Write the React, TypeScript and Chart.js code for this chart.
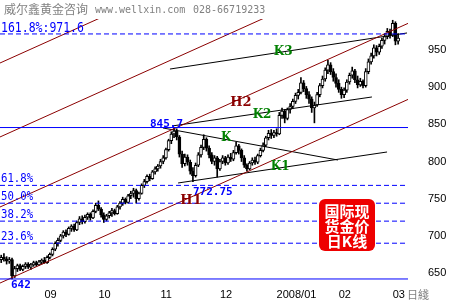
import React, { useEffect, useRef } from "react";
import { Chart, registerables } from "chart.js";

Chart.register(...registerables);

// ---- Daily bars (index 0 = mid Aug 2007) ----
const opens = [668, 671, 669, 666, 668, 646, 656, 660, 655, 659, 662, 658, 661, 664, 661, 665, 667, 664, 671, 675, 682, 690, 694, 700, 705, 702, 710, 713, 708, 718, 723, 719, 725, 729, 724, 733, 741, 736, 728, 722, 727, 731, 734, 730, 739, 744, 749, 745, 754, 757, 761, 750, 757, 768, 773, 780, 777, 786, 790, 794, 800, 805, 816, 828, 837, 841, 833, 810, 797, 806, 799, 787, 781, 795, 809, 819, 830, 818, 809, 800, 805, 790, 800, 805, 798, 806, 803, 812, 821, 815, 805, 795, 790, 798, 802, 799, 808, 815, 822, 832, 838, 835, 839, 837, 862, 868, 858, 870, 874, 881, 889, 893, 906, 898, 890, 884, 872, 876, 890, 902, 911, 923, 930, 921, 913, 905, 897, 890, 896, 907, 916, 922, 910, 903, 908, 902, 921, 934, 942, 953, 947, 955, 963, 968, 975, 970, 986, 962];
const highs = [674, 676, 672, 671, 670, 659, 662, 662, 661, 664, 664, 663, 666, 666, 667, 669, 671, 673, 677, 684, 692, 697, 702, 707, 708, 712, 715, 716, 720, 726, 727, 728, 731, 731, 735, 744, 747, 738, 731, 729, 733, 737, 736, 741, 746, 752, 751, 756, 760, 764, 763, 759, 770, 776, 782, 783, 788, 793, 796, 803, 808, 818, 830, 840, 845.7, 844, 835, 814, 810, 809, 802, 792, 798, 812, 822, 836, 832, 821, 812, 808, 807, 803, 808, 807, 809, 811, 815, 826, 823, 817, 808, 797, 800, 805, 806, 810, 818, 825, 834, 842, 843, 842, 844, 866, 872, 870, 872, 878, 884, 892, 897, 913, 909, 901, 894, 887, 880, 893, 905, 915, 926, 936, 933, 925, 918, 910, 900, 899, 910, 919, 927, 924, 915, 912, 910, 925, 938, 946, 957, 956, 958, 966, 972, 979, 978, 990, 988, 972];
const lows = [664, 666, 662, 663, 642, 644, 652, 653, 653, 656, 656, 655, 659, 659, 660, 662, 663, 663, 669, 673, 680, 686, 692, 697, 699, 701, 706, 706, 707, 715, 716, 717, 722, 721, 723, 731, 734, 725, 718, 720, 724, 726, 728, 729, 736, 741, 743, 744, 750, 752, 744, 748, 756, 765, 771, 774, 776, 783, 787, 791, 797, 803, 814, 824, 832, 829, 806, 792, 794, 795, 783, 772.75, 779, 793, 806, 816, 814, 805, 797, 795, 779, 788, 797, 795, 796, 800, 801, 810, 810, 800, 792, 787, 789, 795, 796, 797, 806, 813, 820, 829, 831, 832, 834, 836, 858, 852, 856, 865, 871, 878, 884, 891, 894, 885, 878, 866, 852, 874, 887, 899, 908, 918, 917, 908, 900, 893, 885, 886, 893, 904, 912, 906, 899, 901, 899, 900, 918, 931, 939, 942, 944, 952, 958, 965, 966, 968, 957, 958];
const closes = [671, 669, 666, 668, 646, 656, 660, 655, 659, 662, 658, 661, 664, 661, 665, 667, 664, 671, 675, 682, 690, 694, 700, 705, 702, 710, 713, 708, 718, 723, 719, 725, 729, 724, 733, 741, 736, 728, 722, 727, 731, 734, 730, 739, 744, 749, 745, 754, 757, 761, 750, 757, 768, 773, 780, 777, 786, 790, 794, 800, 805, 816, 828, 837, 841, 833, 810, 797, 806, 799, 787, 781, 795, 809, 819, 830, 818, 809, 800, 805, 790, 800, 805, 798, 806, 803, 812, 821, 815, 805, 795, 790, 798, 802, 799, 808, 815, 822, 832, 838, 835, 839, 837, 862, 868, 858, 870, 874, 881, 889, 893, 906, 898, 890, 884, 872, 876, 890, 902, 911, 923, 930, 921, 913, 905, 897, 890, 896, 907, 916, 922, 910, 903, 908, 902, 921, 934, 942, 953, 947, 955, 963, 968, 975, 970, 986, 962, 966];

// ---- Axes ----
const X_MIN = -0.45;
const X_MAX = 150.66;
const Y_MIN = 631.2;
const Y_MAX = 991.7;
const yTicks = [650, 700, 750, 800, 850, 900, 950];
const monthLabels = ["09", "10", "11", "12", "2008/01", "02", "03"];
const monthStarts = [16, 36, 59, 81, 102, 125, 145];

// ---- Levels ----
const swingLow = 642;
const swingHigh = 845.7;
const pivotLow = 772.75;
const extLevel = 971.6;
const extLabel = "161.8%:971.6";
const fibLevels = [690.1, 719.8, 743.9, 767.9];
const fibLabels = ["23.6%", "38.2%", "50.0%", "61.8%"];

// ---- Parallel channel (dark red), values at X_MIN and X_MAX ----
const channelStart = [932.5, 833.0, 738.8, 636.5];
const channelEnd = [1179.5, 1080.0, 985.8, 883.5];
const channelNames = ["", "", "H2", "H1"];
const channelLabelX = [0, 0, 88.8, 70.3];
const channelLabelY = [0, 0, 878.7, 746.9];

// ---- Black trend lines K, K1, K2, K3 ----
const kNames = ["K", "K1", "K2", "K3"];
const kStartX = [59.9, 65.5, 63.3, 62.5];
const kStartY = [845.1, 771.1, 847.8, 924.4];
const kEndX = [124.7, 142.9, 137.3, 150.3];
const kEndY = [802.0, 812.8, 886.8, 972.9];
const kLabelX = [83.3, 103.3, 96.6, 104.4];
const kLabelY = [831.6, 792.6, 862.6, 947.3];

const BLUE = "#0000ff";
const DARKRED = "#8b0000";
const GREEN = "#008000";

export default function App() {
  const ref = useRef<HTMLCanvasElement | null>(null);

  useEffect(() => {
    if (!ref.current) return;
    const idx = closes.map((_, i) => i);

    const lineDs = (pts: { x: number; y: number }[], color: string, dash: number[] = []) => ({
      type: "line" as const,
      data: pts,
      borderColor: color,
      borderWidth: 1,
      borderDash: dash,
      pointRadius: 0,
      fill: false,
      tension: 0,
      order: 0,
    });

    const datasets: any[] = [];
    datasets.push(lineDs([{ x: X_MIN, y: extLevel }, { x: X_MAX, y: extLevel }], BLUE, [5, 3]));
    datasets.push(lineDs([{ x: X_MIN, y: swingHigh }, { x: X_MAX, y: swingHigh }], BLUE));
    datasets.push(lineDs([{ x: X_MIN, y: swingLow }, { x: X_MAX, y: swingLow }], BLUE));
    fibLevels.forEach((v) => datasets.push(lineDs([{ x: X_MIN, y: v }, { x: X_MAX, y: v }], BLUE, [5, 3])));
    channelStart.forEach((v, k) =>
      datasets.push(lineDs([{ x: X_MIN, y: v }, { x: X_MAX, y: channelEnd[k] }], DARKRED))
    );
    kNames.forEach((_, k) =>
      datasets.push(lineDs([{ x: kStartX[k], y: kStartY[k] }, { x: kEndX[k], y: kEndY[k] }], "#000"))
    );
    datasets.push({
      type: "bar",
      data: idx.map((i) => ({ x: i, y: [lows[i], highs[i]] })),
      backgroundColor: "#000",
      borderWidth: 0,
      barThickness: 1,
      grouped: false,
      order: 2,
    });
    datasets.push({
      type: "bar",
      data: idx.map((i) => ({ x: i, y: [opens[i], closes[i]] })),
      backgroundColor: idx.map((i) => (closes[i] >= opens[i] ? "#fff" : "#000")),
      borderColor: "#000",
      borderWidth: 1,
      borderSkipped: false,
      barThickness: 3,
      grouped: false,
      order: 1,
    });

    const overlay = {
      id: "overlay",
      afterDraw(chart: any) {
        const ctx = chart.ctx as CanvasRenderingContext2D;
        const xs = chart.scales.x;
        const ys = chart.scales.y;
        const area = chart.chartArea;
        const X = (v: number) => xs.getPixelForValue(v);
        const Y = (v: number) => ys.getPixelForValue(v);
        ctx.save();

        // header
        ctx.fillStyle = "#808080";
        ctx.textBaseline = "middle";
        ctx.textAlign = "left";
        ctx.font = '12px "Noto Sans CJK SC"';
        ctx.fillText("威尔鑫黄金咨询", 4, 9);
        ctx.font = '10px "DejaVu Sans Mono"';
        ctx.fillText("www.wellxin.com", 95, 10);
        ctx.fillText("028-66719233", 193, 10);

        const narrow = (text: string, x: number, y: number, size: number) => {
          ctx.save();
          ctx.translate(x, y);
          ctx.scale(0.82, 1);
          ctx.font = `${size}px "DejaVu Sans Mono"`;
          ctx.fillText(text, 0, 0);
          ctx.restore();
        };
        ctx.fillStyle = BLUE;
        ctx.textBaseline = "alphabetic";
        narrow(extLabel, area.left + 1, Y(extLevel) - 2, 14);
        fibLabels.forEach((t, k) => narrow(t, area.left + 1, Y(fibLevels[k]) - 3, 13));

        ctx.font = 'bold 11px "DejaVu Sans Mono"';
        ctx.textBaseline = "alphabetic";
        ctx.fillText(String(swingHigh), X(55.1), Y(swingHigh) - 1);
        ctx.textBaseline = "top";
        ctx.fillText(String(pivotLow), X(71.0), Y(pivotLow) + 5);
        ctx.fillText(String(swingLow), X(3.6), Y(swingLow) + 1);

        ctx.textAlign = "center";
        ctx.textBaseline = "middle";
        ctx.fillStyle = DARKRED;
        ctx.font = 'bold 13px "DejaVu Serif"';
        channelNames.forEach((n, k) => {
          if (n) ctx.fillText(n, X(channelLabelX[k]), Y(channelLabelY[k]));
        });
        ctx.fillStyle = GREEN;
        ctx.font = 'bold 12px "DejaVu Serif"';
        kNames.forEach((n, k) => ctx.fillText(n, X(kLabelX[k]), Y(kLabelY[k])));

        ctx.textAlign = "left";
        ctx.textBaseline = "middle";
        ctx.fillStyle = "#000";
        ctx.font = '11px "Liberation Sans"';
        monthLabels.forEach((m, k) => ctx.fillText(m, X(monthStarts[k]), 295));
        const lastW = ctx.measureText(monthLabels[monthLabels.length - 1]).width;
        ctx.fillStyle = "#808080";
        ctx.font = '11px "Noto Sans CJK SC"';
        ctx.fillText("日綫", X(monthStarts[monthStarts.length - 1]) + lastW + 2, 295);

        ctx.fillStyle = "#ee0000";
        ctx.beginPath();
        (ctx as any).roundRect(319, 199, 56, 52, 6);
        ctx.fill();
        ctx.fillStyle = "#fff";
        ctx.textAlign = "center";
        ctx.font = 'bold 15px "Noto Sans CJK SC"';
        ["国际现", "货金价", "日K线"].forEach((t, k) => ctx.fillText(t, 347, 211 + k * 15));

        ctx.restore();
      },
    };

    const chart = new Chart(ref.current, {
      type: "bar",
      data: { datasets },
      options: {
        animation: false,
        responsive: false,
        maintainAspectRatio: false,
        layout: { padding: { top: 19, bottom: 13, left: 0, right: 0 } },
        plugins: { legend: { display: false }, tooltip: { enabled: false }, title: { display: false } },
        scales: {
          x: { type: "linear", min: X_MIN, max: X_MAX, display: false, offset: false },
          y: {
            type: "linear",
            position: "right",
            min: Y_MIN,
            max: Y_MAX,
            grid: { display: false, drawTicks: false },
            border: { display: false },
            ticks: {
              padding: 20,
              color: "#000",
              font: { family: "Liberation Sans", size: 11 },
            },
            afterBuildTicks: (scale: any) => {
              scale.ticks = yTicks.map((v) => ({ value: v }));
            },
            afterFit: (scale: any) => {
              scale.width = 42;
              scale.paddingTop = 0;
              scale.paddingBottom = 0;
            },
          },
        },
      },
      plugins: [overlay],
    } as any);

    return () => chart.destroy();
  }, []);

  return (
    <div style={{ position: "absolute", left: 0, top: 0, width: 450, height: 300, background: "#fff" }}>
      <canvas ref={ref} width={450} height={300} style={{ width: 450, height: 300 }} />
    </div>
  );
}
